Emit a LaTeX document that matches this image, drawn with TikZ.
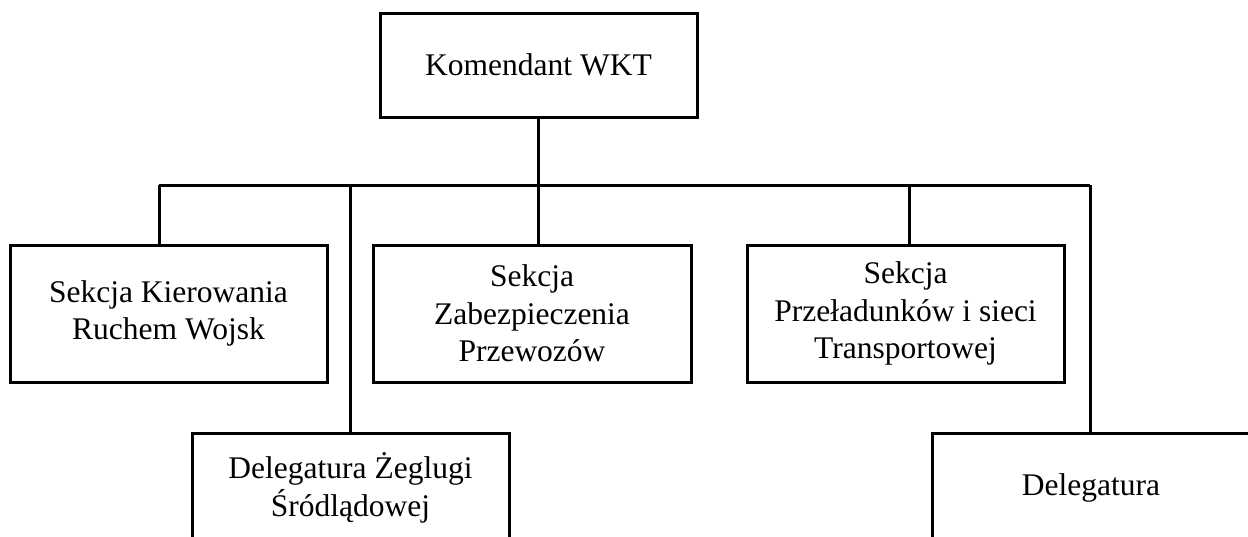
\documentclass[tikz,border=0pt]{standalone}
\usepackage{fontspec}
\setmainfont{Liberation Serif}
\begin{document}
\begin{tikzpicture}[x=1pt,y=-1pt,
  unit/.style={draw, line width=3pt, align=center, inner sep=0pt,
    minimum width=317pt, font=\fontsize{31.5}{37.5}\selectfont},
  link/.style={line width=3pt}]
\clip (0,0) rectangle (1248,536);
\fill[white] (0,0) rectangle (1248,536);

% command level
\node[unit, minimum height=104pt] (top) at (538.5,65) {Komendant WKT};

% sections
\node[unit, minimum height=137pt] (kier) at (168.5,313.5) {Sekcja Kierowania\\Ruchem Wojsk};
\node[unit, minimum height=137pt, minimum width=318pt] (zab) at (532,313.5) {Sekcja\\Zabezpieczenia\\Przewozów};
\node[unit, minimum height=137pt] (prz) at (905.5,313.5) {Sekcja\\Przeładunków i sieci\\Transportowej};

% delegations
\node[unit, minimum height=110pt] (delz) at (350.5,488) {Delegatura Żeglugi\\Śródlądowej};
\node[unit, minimum height=110pt, minimum width=318pt] (del) at (1091,488) {Delegatura};

% bus line and branches
\coordinate (busL) at (159,185);
\coordinate (busR) at (1090,185);
\coordinate (busP) at (909,185);
\draw[link] (busL) -- (busR);
\draw[link] (top.south) -- (top.south |- zab.north);
\draw[link] (busL) -- (busL |- kier.north);
\draw[link] (delz.north |- busL) -- (delz.north);
\draw[link] (busP) -- (busP |- prz.north);
\draw[link] (busR) -- (busR |- del.north);
\end{tikzpicture}
\end{document}
